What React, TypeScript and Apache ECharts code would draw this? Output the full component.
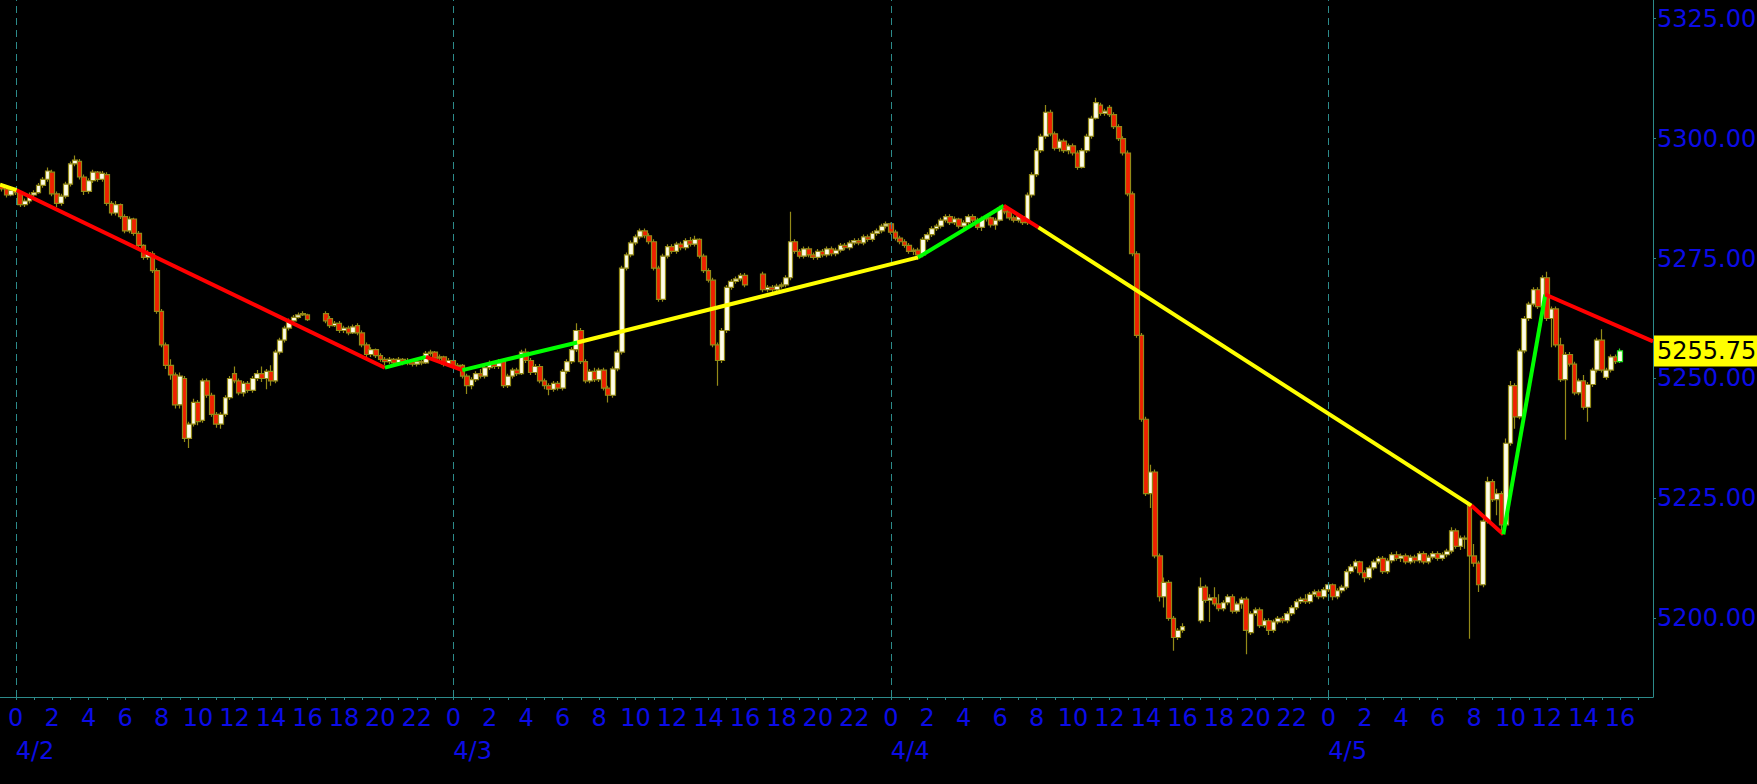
import React, { useEffect, useRef } from 'react';
import * as echarts from 'echarts';

// ---- axis ranges (hours since 4/2 00:00) ----
const X_MIN = -0.864;
const X_MAX = 89.81;
const Y_MIN = 5183.6;
const Y_MAX = 5328.9;

// ---- tick labels ----
const hourLabels = [0, 2, 4, 6, 8, 10, 12, 14, 16, 18, 20, 22, 24, 26, 28, 30, 32, 34, 36, 38, 40, 42, 44, 46, 48, 50, 52, 54, 56, 58, 60, 62, 64, 66, 68, 70, 72, 74, 76, 78, 80, 82, 84, 86, 88];
const dateTicks = [0, 24, 48, 72];
const dateLabels = ['4/2', '4/3', '4/4', '4/5'];
const yTicks = [5200, 5225, 5250, 5275, 5300, 5325];
const lastPrice = 5255.75;

// ---- 15-minute bars [open, close, low, high]; each session starts at the hour given ----
const sessionStarts = [-0.75, 17, 41, 65];

const session1 = [
  [5290.25, 5289.5, 5289, 5290.75], [5289.5, 5288.25, 5287.75, 5290], [5288.25, 5289.25, 5288, 5289.75],
  [5289.25, 5288.75, 5288.25, 5289.75], [5288.75, 5286.25, 5285.75, 5289], [5286.25, 5287, 5285.75, 5287.5], [5287, 5288.25, 5286.5, 5288.75],
  [5288.25, 5288.75, 5287.75, 5289.25], [5288.75, 5290.25, 5288.5, 5290.75], [5290.25, 5291.5, 5289.75, 5292], [5291.5, 5293.25, 5291, 5294],
  [5293, 5288.5, 5288, 5293.5], [5288.5, 5286.5, 5285.75, 5289], [5286.5, 5288, 5286, 5288.5], [5288, 5290.5, 5287.5, 5291],
  [5290.5, 5294.75, 5290, 5295.25], [5294.75, 5295.5, 5294.25, 5296.5], [5295.25, 5292, 5291.5, 5295.75], [5292, 5289, 5288.25, 5292.5],
  [5289, 5291.25, 5288.5, 5291.75], [5291.25, 5293, 5290.75, 5293.5], [5293, 5291.5, 5291, 5293.25], [5291.5, 5292.75, 5291, 5293.25],
  [5292.5, 5286.5, 5286, 5293], [5286.5, 5284.5, 5284, 5287], [5284.5, 5286.25, 5284, 5287], [5286.25, 5283.75, 5283.25, 5286.5],
  [5283.75, 5280.75, 5280.25, 5284.25], [5280.75, 5283.25, 5280.25, 5283.75], [5283.25, 5280.25, 5279.75, 5283.5], [5280.25, 5277.75, 5277.25, 5280.75],
  [5277.75, 5275.25, 5274.75, 5278], [5275.25, 5276.25, 5274.75, 5276.75], [5276, 5272.5, 5272, 5276.5], [5272.5, 5264, 5263.5, 5273],
  [5264, 5257, 5256.5, 5264.5], [5257, 5252.75, 5252, 5257.5], [5252.75, 5250.75, 5249.75, 5254], [5250.75, 5244.5, 5243.75, 5251.25],
  [5244.5, 5250.5, 5243.75, 5251.25], [5250, 5237.5, 5236.75, 5250.5], [5237.5, 5240.5, 5235.5, 5241], [5240.5, 5245, 5240, 5245.75],
  [5245, 5241, 5240.25, 5245.5], [5241.25, 5249.5, 5240.75, 5250], [5249.5, 5246.5, 5246, 5250], [5246.5, 5242.5, 5242, 5247],
  [5242.5, 5240.5, 5239.75, 5243], [5240.5, 5242.5, 5239.5, 5243], [5242.5, 5246, 5242, 5246.5], [5246, 5250, 5245.5, 5250.5],
  [5251, 5249.5, 5249, 5252.5], [5249.5, 5247, 5246.5, 5250], [5247, 5249, 5246.25, 5249.5], [5249, 5247.5, 5247, 5249.5],
  [5247.5, 5250, 5247, 5250.5], [5250, 5251, 5249.5, 5251.75], [5251, 5250, 5249.25, 5252.5], [5250, 5251.5, 5247.75, 5252],
  [5251.5, 5249.5, 5248.5, 5252.75], [5249.5, 5255.5, 5249, 5256], [5255.5, 5258, 5255, 5258.5], [5258, 5260.5, 5257.5, 5261],
  [5260.5, 5262, 5260, 5262.5], [5262, 5262.75, 5261.5, 5263.25], [5262.75, 5263.25, 5262.5, 5263.75], [5263.25, 5263.5, 5263, 5264],
  [5263.25, 5262.25, 5262, 5263.5],
];

const session2 = [
  [5263.5, 5262, 5261.5, 5264], [5262.5, 5261, 5260.5, 5263], [5261, 5261.5, 5260.75, 5262], [5261.5, 5260, 5259.5, 5262],
  [5260, 5260.5, 5259.5, 5261], [5260.5, 5259.5, 5259, 5261], [5259.5, 5260.75, 5259.25, 5261.25], [5261, 5259.5, 5259, 5261.5],
  [5259.5, 5257, 5256.5, 5260], [5257, 5255, 5254.5, 5257.5], [5255, 5256, 5254.5, 5256.5], [5256, 5254.75, 5254.25, 5256.25],
  [5254.75, 5254, 5253.5, 5255.25], [5254, 5253.5, 5252.75, 5254.5], [5253.5, 5254, 5253, 5254.5], [5254, 5253.25, 5252.75, 5254.25],
  [5253.25, 5254, 5253, 5254.5], [5254, 5253.25, 5252.75, 5254.25], [5253.25, 5253.75, 5252.75, 5254.25], [5253.75, 5253, 5252.5, 5254],
  [5253, 5253.5, 5252.5, 5254], [5253.5, 5253.25, 5252.75, 5254], [5253.25, 5255.25, 5253, 5255.75], [5255.25, 5255.5, 5254.75, 5256],
  [5255.5, 5254.25, 5253.75, 5255.75], [5254.25, 5254.5, 5253.75, 5255], [5254.5, 5253, 5252.5, 5254.75], [5253, 5253.75, 5252.5, 5254.25],
  [5253.75, 5252.5, 5252, 5254], [5252.5, 5252.75, 5251.75, 5253.25], [5252.75, 5250.5, 5250, 5253], [5250.5, 5248.5, 5246.75, 5251],
  [5248.5, 5249.75, 5247.75, 5250.25], [5249.75, 5251, 5249.25, 5251.5], [5251, 5250.5, 5250, 5252], [5250.5, 5252.25, 5250, 5252.75],
  [5252.25, 5253, 5251.75, 5253.75], [5253, 5252.5, 5252, 5253.5], [5252.5, 5253.25, 5252, 5254], [5253.5, 5248.5, 5248, 5254],
  [5248.5, 5250.5, 5248, 5251], [5250.5, 5251.75, 5250, 5252.25], [5251.75, 5251, 5250.5, 5252.25], [5251, 5255.5, 5250.75, 5256],
  [5255.5, 5253.75, 5253.25, 5256.25], [5253.75, 5251.25, 5250.75, 5254.25], [5251.25, 5252.5, 5250.75, 5253], [5252.5, 5249.5, 5249, 5253],
  [5249.5, 5248.5, 5247.75, 5250], [5248.5, 5247.75, 5246.5, 5249], [5247.75, 5249, 5247.25, 5249.5], [5249, 5248, 5247.5, 5249.5],
  [5248, 5251.5, 5247.5, 5252], [5251.5, 5253.5, 5251, 5254], [5253.5, 5256, 5253, 5256.5], [5256, 5260, 5255.5, 5261.5],
  [5260, 5253.5, 5253, 5260.5], [5253.5, 5249.5, 5249, 5254], [5249.5, 5251.5, 5249, 5252], [5251.5, 5249.75, 5249.25, 5252.25],
  [5249.75, 5251.75, 5249.25, 5252.25], [5251.75, 5248, 5247.5, 5252.25], [5248, 5246.5, 5245, 5248.5], [5246.5, 5252, 5246, 5252.5],
  [5252, 5255.5, 5251.5, 5256], [5255.5, 5273, 5255, 5273.5], [5273, 5275.75, 5272.5, 5276.25], [5275.75, 5278.25, 5275.25, 5278.75],
  [5278.25, 5279.5, 5277.75, 5280], [5279.5, 5280.75, 5279, 5281.25], [5280.75, 5279.75, 5279.25, 5281.25], [5279.75, 5278.5, 5278, 5280.25],
  [5278.5, 5273, 5272.5, 5279], [5273, 5266.5, 5266, 5273.5], [5266.5, 5275.5, 5266, 5276], [5275.5, 5277.5, 5275, 5278],
  [5277.5, 5276.5, 5276, 5278], [5276.5, 5278, 5276, 5278.5], [5278, 5277.25, 5276.75, 5278.5], [5277.25, 5278.75, 5276.75, 5279.25],
  [5278.75, 5278, 5277.5, 5279.5], [5278, 5279, 5277.5, 5279.75], [5279, 5275.5, 5275, 5279.25], [5275.5, 5272.5, 5272, 5276],
  [5272.5, 5270.5, 5270, 5273], [5270.5, 5257, 5256.5, 5271], [5257, 5253.75, 5248.5, 5257.5], [5253.75, 5260, 5253.25, 5260.5],
  [5260, 5269, 5259.5, 5269.5], [5269, 5270.25, 5268.5, 5270.75], [5270.25, 5270.75, 5269.75, 5271.25], [5270.75, 5271.5, 5270.25, 5272],
  [5271.5, 5269.5, 5269, 5272],
];

const session3 = [
  [5271.75, 5268.5, 5268, 5272.25], [5268.5, 5269, 5268, 5269.5], [5269, 5268.5, 5268, 5269.5], [5268.5, 5269.25, 5268.25, 5269.75],
  [5269.25, 5269.5, 5268.75, 5270], [5269.5, 5271, 5269, 5271.5], [5271, 5278.5, 5270.5, 5284.75], [5278.5, 5276.5, 5276, 5279],
  [5276.5, 5275.5, 5275, 5277], [5275.5, 5277, 5275, 5277.5], [5277, 5275.75, 5275.25, 5277.5], [5275.75, 5275.25, 5274.75, 5276.25],
  [5275.25, 5276.5, 5274.75, 5277], [5276.5, 5275.75, 5275.25, 5277], [5275.75, 5277, 5275.25, 5277.5], [5277, 5276, 5275.5, 5277.5],
  [5276, 5276.75, 5275.5, 5277.25], [5276.75, 5277.75, 5276.25, 5278.25], [5277.75, 5277.25, 5276.75, 5278.25], [5277.25, 5278.25, 5276.75, 5278.75],
  [5278.25, 5278.75, 5277.75, 5279.25], [5278.75, 5278.25, 5277.75, 5279.25], [5278.25, 5279.5, 5277.75, 5280], [5279.5, 5279, 5278.5, 5280],
  [5279, 5280.25, 5278.5, 5280.75], [5280.25, 5280.75, 5279.75, 5281.25], [5280.75, 5281.75, 5280.25, 5282.25], [5281.75, 5282.25, 5281.25, 5282.75],
  [5282.25, 5280.5, 5280, 5282.5], [5280.5, 5279.25, 5278.75, 5281], [5279.25, 5278.5, 5278, 5279.75], [5278.5, 5277.75, 5277.25, 5279],
  [5277.75, 5276.5, 5276, 5278.25], [5276.5, 5276.75, 5275.75, 5277.25], [5276.75, 5275.75, 5274.75, 5277.25], [5275.75, 5279, 5275.25, 5279.5],
  [5279, 5280, 5278.5, 5280.5], [5280, 5281.25, 5279.5, 5281.75], [5281.25, 5281.75, 5280.75, 5282.25], [5281.75, 5283, 5281.25, 5283.5],
  [5283, 5283.75, 5282.5, 5284.25], [5283.75, 5282.5, 5282, 5284.25], [5282.5, 5283.25, 5282, 5283.75], [5283.25, 5281.75, 5281.25, 5283.5],
  [5281.75, 5282.5, 5281.25, 5283], [5282.5, 5283.75, 5282, 5284.25], [5283.75, 5283, 5282.5, 5284.25], [5283, 5281.5, 5281, 5283.5],
  [5281.5, 5283.25, 5280.75, 5283.75], [5283.25, 5283.5, 5282.75, 5284], [5283.5, 5282, 5281.5, 5283.75], [5282, 5283, 5281, 5283.5],
  [5283, 5285.5, 5282.75, 5286], [5285.5, 5284.75, 5284.25, 5286], [5284.75, 5283.5, 5283, 5285.25], [5283.5, 5283, 5282.5, 5284],
  [5283, 5283.75, 5282.5, 5284.25], [5283.75, 5282.5, 5282, 5284], [5282.5, 5288.25, 5282, 5288.75], [5288.25, 5292.5, 5287.75, 5293],
  [5292.5, 5297.5, 5292, 5298], [5297.5, 5300.5, 5297, 5301], [5300.5, 5305.5, 5300, 5307], [5305.5, 5301, 5300.5, 5306],
  [5301, 5298, 5297.5, 5301.5], [5298, 5299.5, 5297.25, 5300], [5299.5, 5297.5, 5297, 5300], [5297.5, 5298.5, 5296.75, 5299],
  [5298.5, 5297, 5296.5, 5299], [5297, 5294, 5293.5, 5297.5], [5294, 5297.5, 5293.75, 5298], [5297.5, 5300.5, 5297, 5301],
  [5300.5, 5304.25, 5300, 5304.75], [5304.25, 5307.5, 5304, 5308.5], [5307, 5305.25, 5304.75, 5307.5], [5305.25, 5305.75, 5304.75, 5306.25],
  [5306.5, 5305, 5304.5, 5307], [5305, 5302.5, 5302, 5305.5], [5302.5, 5300, 5299.5, 5303], [5300, 5297, 5296.5, 5300.5],
  [5297, 5288.5, 5288, 5297.5], [5288.5, 5276, 5275.5, 5289], [5276, 5259, 5258.5, 5276.5], [5259, 5241.5, 5241, 5259.5],
  [5241.5, 5226, 5225.5, 5242], [5226, 5230.5, 5223, 5232], [5230.5, 5213, 5212.5, 5231], [5213, 5204.5, 5203.5, 5213.5],
  [5204.5, 5207.5, 5202.25, 5208.5], [5207.5, 5200, 5199.5, 5208], [5200, 5196, 5193.25, 5200.5], [5196, 5197.5, 5195.5, 5198],
  [5197.5, 5198.25, 5197, 5199],
];

const session4 = [
  [5199.5, 5206.5, 5199, 5208.5], [5206.5, 5203.75, 5203.25, 5207], [5203.75, 5204.25, 5199.25, 5205], [5204.25, 5203, 5202.5, 5206.5],
  [5203, 5202, 5201.5, 5205], [5202, 5203.25, 5201.5, 5203.75], [5203.25, 5204.5, 5202.75, 5205], [5204.5, 5201.5, 5201, 5205],
  [5201.5, 5203, 5201, 5203.5], [5203, 5204, 5202, 5204.5], [5204, 5197.5, 5192.5, 5204.5], [5197, 5201, 5196.5, 5201.5],
  [5201, 5201.75, 5200.5, 5202.25], [5201.75, 5198.5, 5198, 5202.25], [5198.5, 5199.5, 5198, 5200], [5199.5, 5197.5, 5196.5, 5200],
  [5197.5, 5199.25, 5197, 5199.75], [5199.25, 5200, 5198.75, 5200.5], [5200, 5199.5, 5199, 5200.5], [5199.5, 5201, 5199, 5201.5],
  [5201, 5202.25, 5200.5, 5202.75], [5202.25, 5203.5, 5201.75, 5204], [5203.5, 5204, 5203, 5204.5], [5204, 5203.5, 5203, 5205],
  [5203.5, 5205, 5203, 5205.5], [5205, 5205.5, 5204.5, 5206], [5205.5, 5204.5, 5204, 5206], [5204.5, 5206, 5204, 5206.5],
  [5206, 5207, 5205.5, 5207.5], [5207, 5204.5, 5203.75, 5207.25], [5204.5, 5205.75, 5204, 5206.25], [5205.75, 5206.5, 5205.25, 5207],
  [5206.5, 5209.75, 5206, 5210.25], [5209.75, 5210.75, 5209.25, 5211.25], [5210.75, 5211.75, 5210.25, 5212.25], [5211.75, 5209.5, 5209, 5212],
  [5209.5, 5208.5, 5207.5, 5210], [5208.5, 5210.5, 5208, 5211], [5210.5, 5211.75, 5210, 5212.25], [5211.75, 5212.5, 5211.25, 5213],
  [5212.5, 5209.75, 5209.25, 5213], [5209.75, 5212, 5209.25, 5212.5], [5212, 5213.25, 5211.5, 5213.75], [5213.25, 5212.5, 5212, 5214],
  [5212.5, 5213, 5211.75, 5213.5], [5213, 5211.75, 5211.25, 5213.5], [5211.75, 5212.75, 5211.25, 5213.25], [5212.75, 5212, 5211.5, 5213.25],
  [5212, 5213.5, 5211.5, 5214], [5213.5, 5211.75, 5211.25, 5214], [5211.75, 5212.75, 5211.25, 5213.25], [5212.75, 5213.5, 5212.25, 5214],
  [5213.5, 5212.5, 5212, 5214], [5212.5, 5213.25, 5212, 5213.75], [5213.25, 5214, 5212.75, 5214.5], [5214, 5218.25, 5213.5, 5219],
  [5218.25, 5215, 5214.5, 5218.75], [5215, 5216.75, 5214.25, 5217.25], [5216.75, 5216.5, 5214.5, 5217.25], [5223.5, 5213, 5195.75, 5224],
  [5213, 5211.5, 5210.75, 5215.5], [5211.5, 5207, 5205.5, 5212], [5207, 5220.25, 5206.5, 5221], [5220.25, 5228.5, 5219.75, 5229.5],
  [5228.5, 5224.75, 5224.25, 5229], [5224.75, 5226, 5221.5, 5227], [5226, 5219.5, 5217.5, 5226.5], [5219.5, 5236.5, 5219, 5237.5],
  [5236.5, 5248.5, 5236, 5249.5], [5248.5, 5242, 5239.5, 5249], [5242, 5255.75, 5241.5, 5256.25], [5255.75, 5262.5, 5255.25, 5263],
  [5262.5, 5265.5, 5262, 5266], [5265.5, 5268.5, 5265, 5269], [5268.5, 5265, 5264.5, 5269], [5265, 5271, 5264.5, 5271.5],
  [5271, 5262.5, 5262, 5272.25], [5262.5, 5264.5, 5256.5, 5265], [5264.5, 5257, 5256.5, 5265], [5257, 5249.75, 5249.25, 5258.5],
  [5249.75, 5255, 5237.25, 5255.5], [5255, 5253, 5252.5, 5255.5], [5253, 5247, 5246.5, 5253.5], [5247, 5249.5, 5246.5, 5250],
  [5249.5, 5244, 5243.5, 5250.75], [5244, 5248.75, 5241, 5249.25], [5248.75, 5251.75, 5248.25, 5252.25], [5251.75, 5258, 5251.25, 5258.5],
  [5258, 5251.75, 5251.25, 5260.25], [5250.25, 5251.75, 5249.75, 5252.25], [5251.75, 5254.5, 5251.25, 5255], [5254.5, 5253.5, 5253, 5255],
  [5253.5, 5255.75, 5253.25, 5256.25],
];

// ---- trend (zig-zag) line: vertices [hour, price] and colour of each segment ----
const zigzagPoints = [
  [-0.864, 5290.4], [0.05, 5289.25], [20.25, 5252.25], [22.5, 5254.5], [24.5, 5251.75], [30.8, 5257.5],
  [49.5, 5275.25], [54.2, 5286], [56.1, 5281.5], [79.85, 5223.5], [81.6, 5217.5], [83.9, 5267.5], [89.81, 5257.75],
];
const zigzagColors = ['#ffff00', '#ff0000', '#00ff00', '#ff0000', '#00ff00', '#ffff00', '#00ff00', '#ff0000', '#ffff00', '#ff0000', '#00ff00', '#ff0000'];

const TEAL = '#2c8a8a';
const BLUE = '#0c0ce6';
const FONT = '"DejaVu Sans", Verdana, sans-serif';

export default function App() {
  const ref = useRef<HTMLDivElement>(null);

  useEffect(() => {
    document.body.style.margin = '0';
    document.body.style.background = '#000';
    if (!ref.current) return;
    const chart = echarts.init(ref.current, null, { renderer: 'svg' });

    const sessions = [session1, session2, session3, session4];
    const candleData: any[] = [];
    sessions.forEach((bars, si) => {
      bars.forEach((b, i) => {
        candleData.push([sessionStarts[si] + i * 0.25, b[0], b[1], b[2], b[3]]);
      });
    });
    const lastIdx = candleData.length - 1;
    candleData[lastIdx] = {
      value: candleData[lastIdx],
      itemStyle: { borderColor: '#22dd22', borderColor0: '#22dd22' },
    };

    const hourTicks = Array.from({ length: 90 }, (_, i) => i);

    const zigzagSeries = zigzagColors.map((c, i) => ({
      type: 'line',
      data: [zigzagPoints[i], zigzagPoints[i + 1]],
      symbol: 'none',
      showSymbol: false,
      silent: true,
      z: 5,
      lineStyle: { color: c, width: 4 },
    }));

    chart.setOption({
      animation: false,
      backgroundColor: '#000000',
      grid: {
        left: 0,
        right: 104,
        top: 0,
        bottom: 87,
        containLabel: false,
        outerBoundsMode: 'none',
      },
      xAxis: [
        {
          type: 'value',
          min: X_MIN,
          max: X_MAX,
          splitLine: { show: false },
          axisLine: { show: true, onZero: false, lineStyle: { color: TEAL, width: 1 } },
          axisTick: { show: true, length: 3, customValues: hourTicks, lineStyle: { color: TEAL } },
          axisLabel: {
            customValues: hourLabels,
            formatter: (v: number) => String(Math.round(v) % 24),
            color: BLUE,
            fontSize: 24,
            fontFamily: FONT,
            margin: 9,
            hideOverlap: false,
          },
        },
        {
          type: 'value',
          min: X_MIN,
          max: X_MAX,
          position: 'bottom',
          splitLine: { show: false },
          axisLine: { show: false, onZero: false },
          axisTick: { show: false },
          axisLabel: {
            customValues: dateTicks,
            formatter: (v: number) => dateLabels[dateTicks.indexOf(Math.round(v))] || '',
            color: BLUE,
            fontSize: 24,
            fontFamily: FONT,
            align: 'left',
            margin: 42,
          },
        },
      ],
      yAxis: {
        type: 'value',
        position: 'right',
        min: Y_MIN,
        max: Y_MAX,
        splitLine: { show: false },
        axisLine: { show: true, onZero: false, lineStyle: { color: TEAL, width: 1 } },
        axisTick: { show: true, length: 3, customValues: yTicks, lineStyle: { color: TEAL } },
        axisLabel: {
          customValues: yTicks,
          formatter: (v: number) => v.toFixed(3),
          color: BLUE,
          fontSize: 24,
          fontFamily: FONT,
          margin: 4,
        },
      },
      series: [
        {
          type: 'line',
          data: [[dateTicks[0], yTicks[0]]],
          symbol: 'none',
          showSymbol: false,
          silent: true,
          z: 1,
          lineStyle: { width: 0 },
          markLine: {
            silent: true,
            symbol: 'none',
            animation: false,
            label: { show: false },
            lineStyle: { color: TEAL, type: [7, 5], width: 1 },
            data: dateTicks.map((x) => ({ xAxis: x })),
          },
        },
        {
          type: 'candlestick',
          data: candleData,
          barWidth: 5.2,
          z: 3,
          itemStyle: {
            color: '#fffde8',
            color0: '#f02000',
            borderColor: '#948a18',
            borderColor0: '#948a18',
            borderWidth: 1.2,
          },
          markLine: {
            silent: true,
            symbol: 'none',
            animation: false,
            lineStyle: { color: 'rgba(0,0,0,0)', width: 1 },
            data: [{ yAxis: lastPrice }],
            label: {
              show: true,
              position: 'end',
              distance: 1,
              formatter: lastPrice.toFixed(3),
              color: '#000000',
              backgroundColor: '#ffff00',
              fontSize: 24,
              fontFamily: FONT,
              padding: [4, 6, 3, 3],
            },
          },
        },
        ...zigzagSeries,
      ],
    });

    return () => {
      chart.dispose();
    };
  }, []);

  return <div ref={ref} style={{ width: 1757, height: 784 }} />;
}
